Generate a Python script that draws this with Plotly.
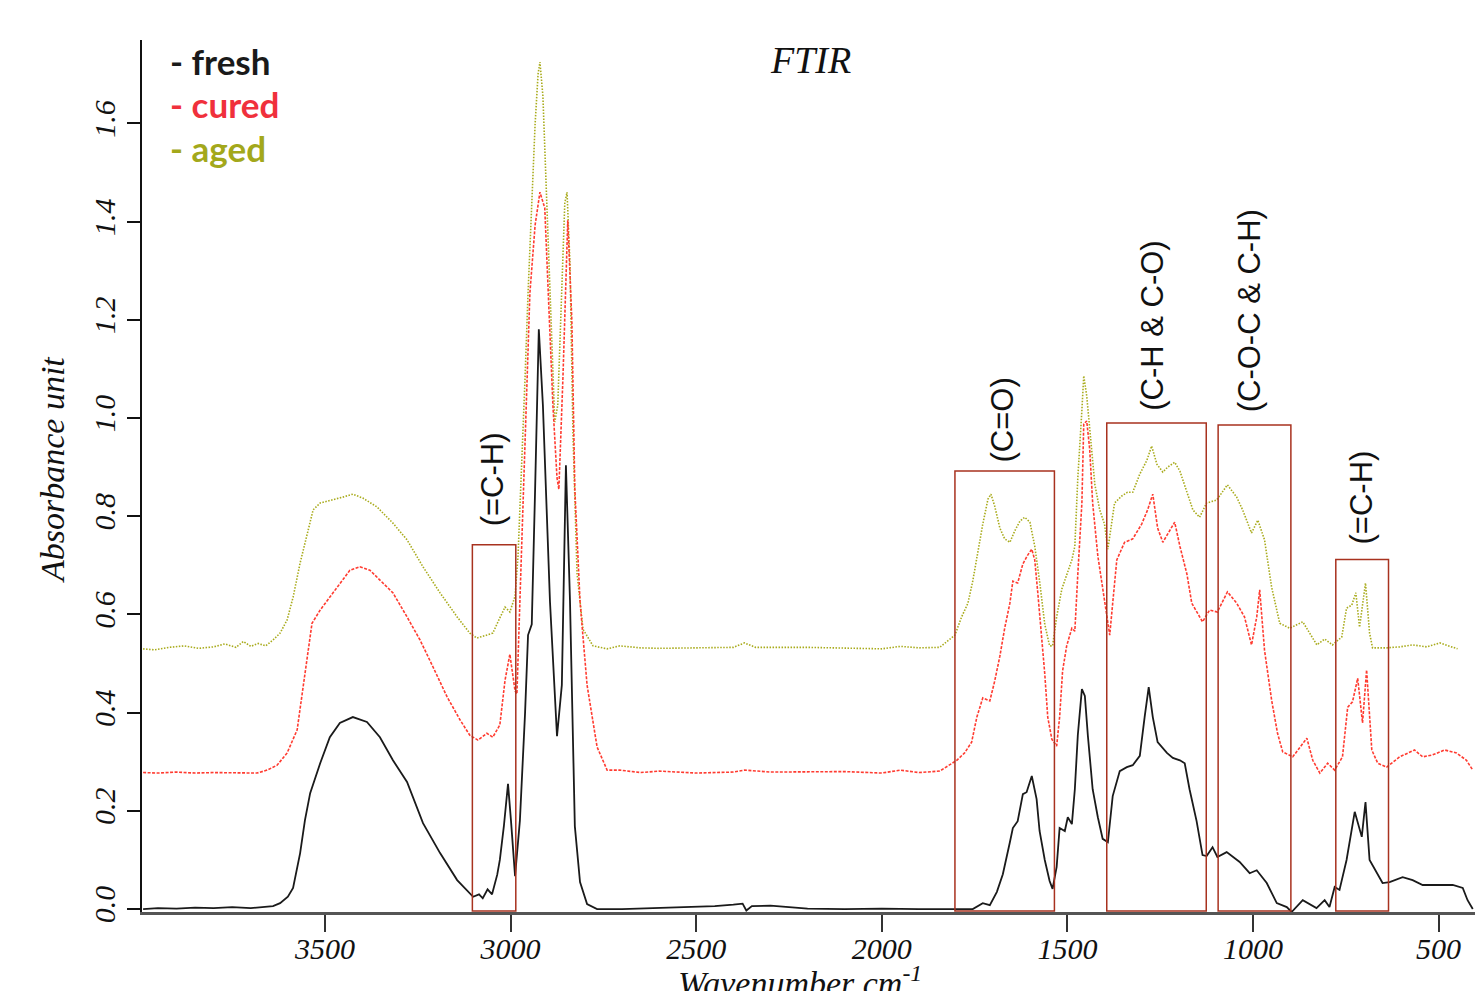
import plotly.graph_objects as go

# ---------------- data ----------------
fresh_wn = [3990, 3950, 3900, 3850, 3800, 3750, 3700, 3660, 3640, 3621, 3600, 3586, 3567, 3554, 3540, 3513,
            3487, 3460, 3425, 3387, 3352, 3317, 3279, 3236, 3190, 3144, 3101, 3085, 3075, 3062, 3050,
            3036, 3029, 3018, 3007, 2999, 2988, 2975, 2961, 2953, 2943, 2934, 2924, 2913, 2894, 2875,
            2862, 2851, 2840, 2827, 2813, 2794, 2767, 2700, 2600, 2500, 2450, 2400, 2375, 2365, 2350,
            2300, 2250, 2200, 2100, 2000, 1900, 1844, 1755, 1728, 1709, 1690, 1674, 1655, 1647, 1634,
            1620, 1610, 1596, 1583, 1575, 1561, 1548, 1540, 1529, 1521, 1507, 1499, 1488, 1480, 1472,
            1461, 1453, 1445, 1432, 1418, 1405, 1391, 1378, 1359, 1340, 1324, 1305, 1292, 1281, 1270,
            1257, 1232, 1216, 1197, 1184, 1171, 1152, 1136, 1125, 1109, 1096, 1071, 1036, 1009, 990,
            963, 936, 909, 896, 866, 829, 807, 794, 780, 767, 748, 726, 707, 697, 686, 667, 651, 632,
            597, 570, 543, 497, 462, 435, 422, 408]
fresh_abs = [0.000, 0.002, 0.001, 0.003, 0.002, 0.004, 0.002, 0.004, 0.006, 0.012, 0.025, 0.043, 0.114, 0.181, 0.236, 0.297,
             0.350, 0.379, 0.391, 0.381, 0.350, 0.303, 0.259, 0.175, 0.114, 0.059, 0.025, 0.030, 0.022, 0.040, 0.030,
             0.070, 0.100, 0.170, 0.255, 0.180, 0.067, 0.180, 0.400, 0.558, 0.580, 0.855, 1.181, 1.026, 0.627, 0.352,
             0.456, 0.904, 0.627, 0.169, 0.055, 0.010, 0.000, 0.000, 0.002, 0.004, 0.006, 0.009, 0.011, -0.003, 0.006,
             0.007, 0.004, 0.001, 0.000, 0.001, 0.000, 0.000, 0.000, 0.012, 0.008, 0.035, 0.071, 0.136, 0.165, 0.179,
             0.234, 0.238, 0.271, 0.224, 0.159, 0.100, 0.057, 0.041, 0.086, 0.165, 0.159, 0.187, 0.173, 0.244, 0.354,
             0.448, 0.434, 0.354, 0.244, 0.187, 0.143, 0.136, 0.230, 0.281, 0.289, 0.293, 0.312, 0.391, 0.452, 0.391,
             0.340, 0.318, 0.308, 0.303, 0.297, 0.244, 0.179, 0.110, 0.108, 0.126, 0.106, 0.116, 0.096, 0.073, 0.079,
             0.053, 0.012, 0.004, -0.006, 0.018, 0.002, 0.018, 0.004, 0.045, 0.039, 0.100, 0.198, 0.147, 0.218, 0.100, 0.073, 0.053, 0.055,
             0.065, 0.059, 0.049, 0.049, 0.049, 0.043, 0.018, 0.000]

cured_wn = [3990, 3950, 3900, 3850, 3800, 3750, 3700, 3683, 3656, 3629, 3602, 3575, 3559, 3548, 3535, 3513,
            3487, 3460, 3433, 3406, 3379, 3352, 3317, 3279, 3244, 3209, 3171, 3136, 3110, 3088, 3064,
            3048, 3029, 3015, 3002, 2988, 2983, 2975, 2961, 2948, 2934, 2921, 2908, 2899, 2886, 2875,
            2870, 2859, 2848, 2846, 2835, 2827, 2813, 2794, 2767, 2740, 2706, 2650, 2600, 2500, 2400,
            2370, 2300, 2200, 2100, 2000, 1950, 1900, 1844, 1798, 1777, 1758, 1744, 1728, 1709, 1696,
            1682, 1669, 1655, 1647, 1634, 1620, 1607, 1596, 1588, 1580, 1569, 1561, 1553, 1542, 1529,
            1521, 1513, 1502, 1488, 1480, 1472, 1461, 1456, 1448, 1440, 1432, 1418, 1400, 1386, 1378,
            1367, 1346, 1324, 1300, 1284, 1270, 1257, 1243, 1224, 1211, 1197, 1178, 1165, 1149, 1136,
            1117, 1096, 1069, 1044, 1023, 1004, 990, 982, 969, 950, 934, 920, 893, 855, 839, 820, 799,
            780, 759, 745, 732, 718, 705, 694, 680, 664, 640, 605, 565, 543, 516, 484, 452, 425, 408]
cured_abs = [0.278, 0.277, 0.279, 0.277, 0.278, 0.278, 0.277, 0.277, 0.283, 0.293, 0.318, 0.365, 0.452, 0.513, 0.582, 0.609,
             0.635, 0.664, 0.690, 0.697, 0.690, 0.670, 0.644, 0.595, 0.548, 0.493, 0.432, 0.385, 0.354, 0.344, 0.358,
             0.350, 0.375, 0.466, 0.519, 0.444, 0.438, 0.627, 0.969, 1.255, 1.393, 1.460, 1.428, 1.255, 1.026, 0.878,
             0.855, 1.083, 1.381, 1.403, 1.198, 0.855, 0.627, 0.456, 0.330, 0.283, 0.283, 0.278, 0.281, 0.277, 0.279,
             0.283, 0.279, 0.279, 0.280, 0.277, 0.283, 0.278, 0.281, 0.303, 0.318, 0.340, 0.391, 0.430, 0.424, 0.464,
             0.515, 0.572, 0.623, 0.668, 0.664, 0.703, 0.721, 0.733, 0.711, 0.646, 0.550, 0.479, 0.391, 0.346, 0.332,
             0.391, 0.485, 0.536, 0.572, 0.566, 0.682, 0.827, 0.988, 0.994, 0.937, 0.827, 0.719, 0.623, 0.558, 0.623,
             0.711, 0.747, 0.754, 0.784, 0.813, 0.845, 0.776, 0.747, 0.770, 0.788, 0.739, 0.682, 0.623, 0.601, 0.585,
             0.609, 0.605, 0.646, 0.623, 0.595, 0.538, 0.595, 0.650, 0.527, 0.426, 0.358, 0.320, 0.310, 0.348, 0.303, 0.277, 0.297,
             0.283, 0.310, 0.411, 0.422, 0.470, 0.379, 0.487, 0.324, 0.297, 0.289, 0.310, 0.324, 0.310, 0.314, 0.324, 0.318, 0.303, 0.283]

aged_wn = [3990, 3960, 3920, 3880, 3840, 3800, 3770, 3740, 3720, 3700, 3680, 3660, 3640, 3621, 3602, 3586,
           3567, 3548, 3532, 3513, 3478, 3452, 3425, 3398, 3360, 3317, 3279, 3236, 3190, 3144, 3110,
           3091, 3064, 3048, 3029, 3015, 3002, 2988, 2980, 2969, 2961, 2953, 2943, 2934, 2926, 2921,
           2913, 2902, 2889, 2881, 2873, 2862, 2854, 2848, 2840, 2832, 2821, 2805, 2778, 2740, 2706,
           2650, 2600, 2500, 2400, 2370, 2340, 2200, 2100, 2000, 1950, 1900, 1844, 1803, 1785, 1768,
           1755, 1741, 1728, 1714, 1706, 1696, 1682, 1669, 1655, 1642, 1628, 1615, 1601, 1588, 1575,
           1561, 1548, 1540, 1529, 1515, 1502, 1488, 1480, 1472, 1461, 1456, 1448, 1440, 1426, 1413,
           1400, 1391, 1381, 1373, 1354, 1338, 1324, 1305, 1286, 1273, 1259, 1243, 1230, 1211, 1197,
           1178, 1162, 1144, 1125, 1098, 1069, 1044, 1028, 1004, 987, 969, 950, 928, 901, 866, 847,
           828, 807, 786, 761, 748, 734, 723, 713, 697, 686, 678, 640, 605, 570, 532, 497, 479, 449]
aged_abs = [0.530, 0.528, 0.533, 0.536, 0.531, 0.534, 0.540, 0.533, 0.545, 0.535, 0.541, 0.536, 0.548, 0.562, 0.589, 0.635,
            0.705, 0.766, 0.813, 0.827, 0.833, 0.839, 0.845, 0.837, 0.819, 0.786, 0.752, 0.697, 0.644, 0.595, 0.562,
            0.552, 0.558, 0.562, 0.593, 0.615, 0.605, 0.637, 0.719, 0.912, 1.083, 1.255, 1.428, 1.599, 1.701, 1.725,
            1.656, 1.428, 1.141, 0.992, 1.026, 1.255, 1.438, 1.460, 1.314, 0.969, 0.684, 0.570, 0.536, 0.530, 0.536,
            0.532, 0.531, 0.532, 0.533, 0.542, 0.533, 0.533, 0.532, 0.530, 0.535, 0.532, 0.533, 0.558, 0.595, 0.623,
            0.668, 0.733, 0.784, 0.835, 0.845, 0.821, 0.776, 0.754, 0.747, 0.770, 0.790, 0.798, 0.788, 0.739, 0.668,
            0.580, 0.536, 0.536, 0.595, 0.652, 0.682, 0.711, 0.739, 0.878, 1.016, 1.086, 1.045, 0.974, 0.864, 0.813,
            0.784, 0.733, 0.790, 0.827, 0.841, 0.849, 0.849, 0.886, 0.914, 0.943, 0.906, 0.890, 0.900, 0.910, 0.892,
            0.849, 0.813, 0.798, 0.827, 0.833, 0.864, 0.839, 0.813, 0.766, 0.792, 0.752, 0.656, 0.582, 0.572, 0.585, 0.562,
            0.538, 0.550, 0.538, 0.554, 0.613, 0.619, 0.644, 0.574, 0.664, 0.562, 0.532, 0.532, 0.534, 0.538, 0.534, 0.542, 0.538, 0.530]

series_names = ["fresh", "cured", "aged"]
line_colors = ["#1a1a1a", "#ff3b30", "#a9ab1c"]
label_colors = ["#1a1a1a", "#f0303c", "#a3a81b"]

# band boxes: (high wavenumber, low wavenumber, top absorbance)
box_hi = [3103, 1803, 1394, 1094, 777]
box_lo = [2986, 1535, 1126, 898, 635]
box_top = [0.742, 0.892, 0.990, 0.986, 0.712]
band_labels = ["(=C-H)", "(C=O)", "(C-H & C-O)", "(C-O-C & C-H)", "(=C-H)"]
label_wn = [3048, 1674, 1273, 1009, 707]
label_base = [0.775, 0.906, 1.010, 1.008, 0.738]

x_ticks = [3500, 3000, 2500, 2000, 1500, 1000, 500]
y_ticks = [0.0, 0.2, 0.4, 0.6, 0.8, 1.0, 1.2, 1.4, 1.6]

# ---------------- figure ----------------
fig = go.Figure()
fig.add_trace(go.Scatter(x=aged_wn, y=aged_abs, mode="lines", name="aged",
                         line=dict(color=line_colors[2], width=1.6, dash="1.5px,1.5px")))
fig.add_trace(go.Scatter(x=cured_wn, y=cured_abs, mode="lines", name="cured",
                         line=dict(color=line_colors[1], width=1.6, dash="3px,1.5px")))
fig.add_trace(go.Scatter(x=fresh_wn, y=fresh_abs, mode="lines", name="fresh",
                         line=dict(color=line_colors[0], width=1.8)))

for x0, x1, top in zip(box_hi, box_lo, box_top):
    fig.add_shape(type="rect", xref="x", yref="y", x0=x0, x1=x1, y0=-0.004, y1=top,
                  line=dict(color="#a8321f", width=1.5), fillcolor="rgba(0,0,0,0)", layer="above")

annots = []
for txt, xw, yb in zip(band_labels, label_wn, label_base):
    annots.append(dict(text=txt, x=xw, y=yb, xref="x", yref="y", textangle=-90,
                       xanchor="center", yanchor="bottom", showarrow=False,
                       font=dict(family="Liberation Sans", size=31, color="#111111")))

L, T, B, R = 142, 40, 912, 1475
for i, (nm, col) in enumerate(zip(series_names, label_colors)):
    annots.append(dict(text="- " + nm, x=(168 - L) / (R - L), y=(B - (61 + 43.5 * i)) / (B - T),
                       xref="paper", yref="paper",
                       showarrow=False, xanchor="left", yanchor="middle",
                       font=dict(family="Lato", size=35, color=col, weight="bold")))

annots.append(dict(text="FTIR", x=(810 - L) / (R - L), y=(B - 60) / (B - T), xref="paper", yref="paper",
                   showarrow=False, xanchor="center", yanchor="middle",
                   font=dict(family="Liberation Serif", size=38, color="#111111", style="italic")))
annots.append(dict(text="Absorbance unit", x=(52 - L) / (R - L), y=(B - 470) / (B - T), xref="paper",
                   yref="paper", showarrow=False, xanchor="center", yanchor="middle", textangle=-90,
                   font=dict(family="Liberation Serif", size=34, color="#111111", style="italic")))
annots.append(dict(text="Wavenumber cm<sup>-1</sup>", x=(800 - L) / (R - L), y=(B - 958) / (B - T),
                   xref="paper", yref="paper", showarrow=False, xanchor="center", yanchor="top",
                   font=dict(family="Liberation Serif", size=34, color="#111111", style="italic")))

fig.update_layout(
    width=1475, height=991,
    margin=dict(l=L, r=1475 - R, t=T, b=991 - B),
    paper_bgcolor="white", plot_bgcolor="white",
    showlegend=False,
    annotations=annots,
    xaxis=dict(range=[3993, 402], tickvals=x_ticks, ticktext=[str(v) for v in x_ticks],
               showgrid=False, zeroline=False, showline=True, linecolor="#555555", linewidth=3,
               ticks="outside", ticklen=17, tickwidth=1.5, tickcolor="#333333", ticklabelstandoff=-9,
               tickfont=dict(family="Liberation Serif", size=30, color="#111111", style="italic")),
    yaxis=dict(range=[-0.006, 1.77], tickvals=y_ticks, ticktext=["%.1f" % v for v in y_ticks],
               tickangle=-90, showgrid=False, zeroline=False, showline=True, linecolor="#111111",
               linewidth=2, ticks="outside", ticklen=13, tickwidth=1.5, tickcolor="#111111",
               tickfont=dict(family="Liberation Serif", size=30, color="#111111", style="italic")),
)

fig.write_html("out.html")
